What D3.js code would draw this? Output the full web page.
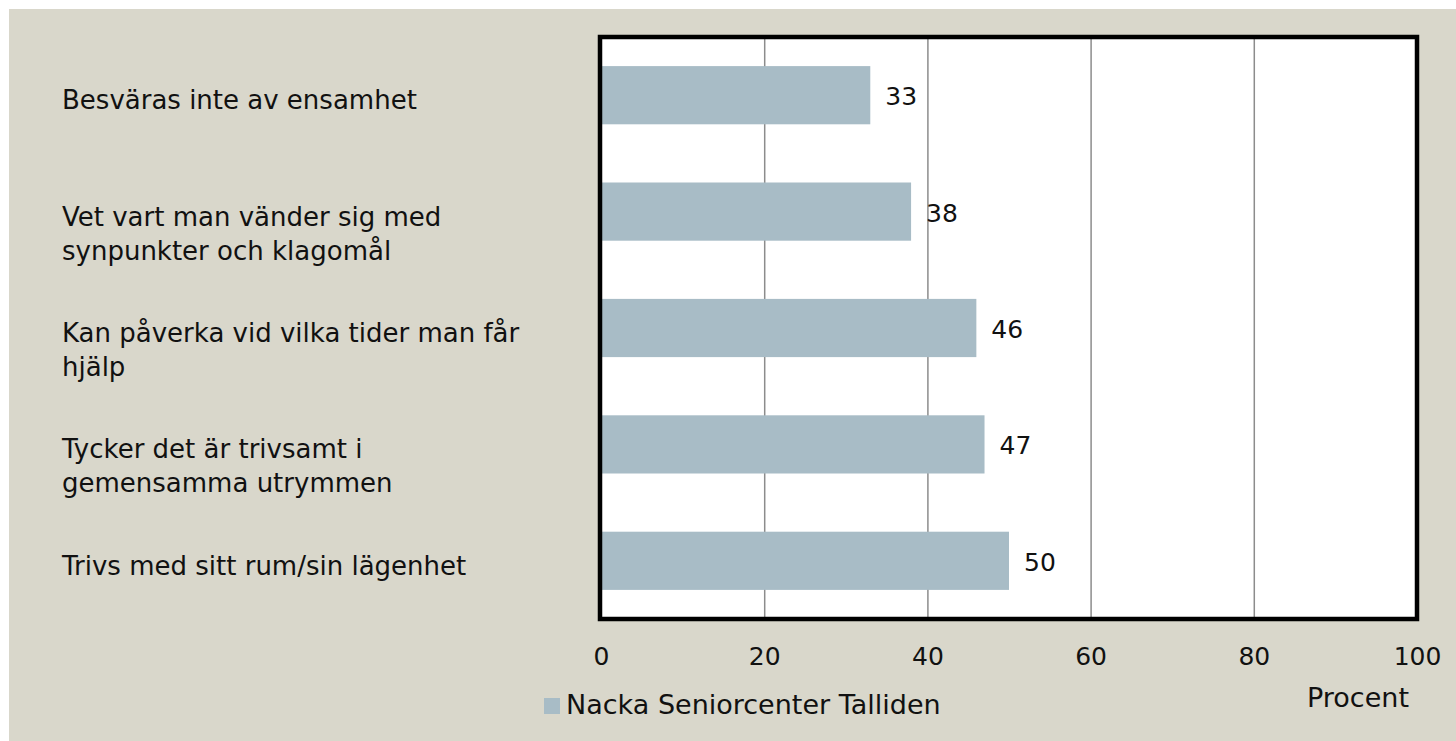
<!DOCTYPE html>
<html>
<head>
<meta charset="utf-8">
<script src="https://cdn.jsdelivr.net/npm/d3@7"></script>
<style>
  html, body { margin: 0; padding: 0; background: #fff; }
  svg { display: block; }
  text { font-family: "DejaVu Sans", sans-serif; fill: #111; }
</style>
</head>
<body>
<div id="chart"></div>
<script>
// categories, top to bottom (\n = line break as in the original)
const categories = [
  "Besväras inte av ensamhet",
  "Vet vart man vänder sig med\nsynpunkter och klagomål",
  "Kan påverka vid vilka tider man får\nhjälp",
  "Tycker det är trivsamt i\ngemensamma utrymmen",
  "Trivs med sitt rum/sin lägenhet"
]
const values = [33, 38, 46, 47, 50]
const xTicks = [0, 20, 40, 60, 80, 100]
const seriesName = "Nacka Seniorcenter Talliden"
const axisTitle = "Procent"

const width = 1456, height = 741
const plot = {left: 601, right: 1417, top: 37, bottom: 619}

const svg = d3.select("#chart").append("svg")
  .attr("width", width)
  .attr("height", height)

// beige panel, white strip on top and left
svg.append("rect").attr("x", 9).attr("y", 9)
  .attr("width", width - 9).attr("height", height - 9)
  .attr("fill", "#d9d7cb")

const x = d3.scaleLinear().domain([0, 100]).range([plot.left, plot.right])
const y = d3.scaleBand().domain(categories).range([plot.top, plot.bottom])
  .paddingInner(0.5).paddingOuter(0.25)

// plot background
svg.append("rect")
  .attr("x", plot.left).attr("y", plot.top)
  .attr("width", plot.right - plot.left).attr("height", plot.bottom - plot.top)
  .attr("fill", "#fff")

// gridlines
const grid = svg.append("g").attr("transform", `translate(0,${plot.bottom})`)
  .call(d3.axisBottom(x).tickValues(xTicks.slice(1, -1)).tickSize(-(plot.bottom - plot.top)).tickFormat(""))
grid.select(".domain").remove()
grid.selectAll("line").attr("stroke", "#8c8c8c").attr("stroke-width", 1.5)

// bars
svg.selectAll("rect.bar")
  .data(values)
  .enter()
  .append("rect")
    .attr("class", "bar")
    .attr("x", x(0))
    .attr("y", (d, i) => y(categories[i]))
    .attr("width", d => x(d) - x(0))
    .attr("height", y.bandwidth())
    .attr("fill", "#a8bcc6")

// value labels
svg.selectAll("text.val")
  .data(values)
  .enter()
  .append("text")
    .attr("class", "val")
    .attr("x", d => x(d) + 15)
    .attr("y", (d, i) => y(categories[i]) + y.bandwidth() / 2 + 10)
    .attr("font-size", 25)
    .text(d => d)

// frame
svg.append("rect")
  .attr("x", plot.left - 1).attr("y", plot.top)
  .attr("width", plot.right - plot.left + 1).attr("height", plot.bottom - plot.top)
  .attr("fill", "none")
  .attr("stroke", "#000")
  .attr("stroke-width", 4.5)

// x axis labels
const xAxis = svg.append("g").attr("transform", `translate(0,${plot.bottom})`)
  .call(d3.axisBottom(x).tickValues(xTicks).tickSize(0).tickPadding(0))
xAxis.select(".domain").remove()
xAxis.selectAll("text")
  .attr("dy", 0).attr("y", 46)
  .attr("font-size", 25)
  .style("font-family", "DejaVu Sans, sans-serif")
  .attr("fill", "#111")

svg.append("text")
  .attr("x", 1409).attr("y", 707)
  .attr("text-anchor", "end")
  .attr("font-size", 27)
  .text(axisTitle)

// category labels
categories.forEach((c, i) => {
  const t = svg.append("text")
    .attr("x", 62)
    .attr("y", y(c) + y.bandwidth() / 2 + 14)
    .attr("font-size", 26)
  c.split("\n").forEach((line, j) => {
    t.append("tspan").attr("x", 62).attr("dy", j ? 34 : 0).text(line)
  })
})

// legend
svg.append("rect")
  .attr("x", 544).attr("y", 698).attr("width", 16).attr("height", 16)
  .attr("fill", "#a8bcc6")
svg.append("text")
  .attr("x", 566).attr("y", 714)
  .attr("font-size", 27)
  .text(seriesName)
</script>
</body>
</html>
